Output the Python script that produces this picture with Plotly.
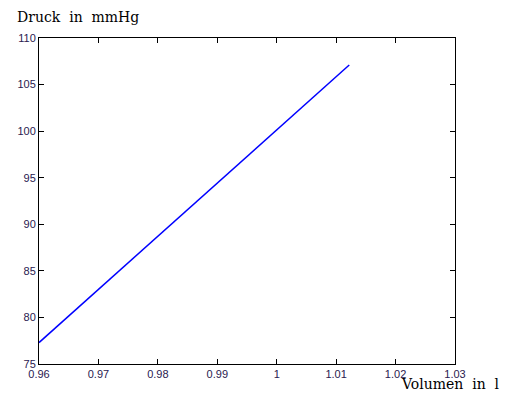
import plotly.graph_objects as go

# Volume (l) and pressure (mmHg) readings
volumen = [0.96, 0.97, 0.98, 0.99, 1.00, 1.0122]
druck = [77.3, 83.0, 88.7, 94.4, 100.1, 107.1]

x_ticks = [0.96, 0.97, 0.98, 0.99, 1.00, 1.01, 1.02, 1.03]
x_labels = ["0.96", "0.97", "0.98", "0.99", "1", "1.01", "1.02", "1.03"]
y_ticks = [75, 80, 85, 90, 95, 100, 105, 110]
y_labels = [str(v) for v in y_ticks]

fig = go.Figure()
fig.add_trace(go.Scatter(x=volumen, y=druck, mode="lines",
                         line=dict(color="#0000ff", width=1.5),
                         showlegend=False))

axis_common = dict(showline=True, mirror="ticks", linecolor="black", linewidth=1,
                   ticks="inside", ticklen=5, tickcolor="black",
                   showgrid=False, zeroline=False,
                   tickfont=dict(family="Liberation Sans, Arial", size=11, color="#2a2050"))

fig.update_xaxes(range=[0.96, 1.03], tickvals=x_ticks, ticktext=x_labels, **axis_common)
fig.update_yaxes(range=[75, 110], tickvals=y_ticks, ticktext=y_labels, **axis_common)

fig.add_annotation(text="Druck  in  mmHg", xref="paper", yref="paper",
                   x=-0.058, y=1.064, xanchor="left", yanchor="middle", showarrow=False,
                   font=dict(family="DejaVu Serif", size=14, color="black"))
fig.add_annotation(text="Volumen  in  l", xref="paper", yref="paper",
                   x=0.866, y=-0.062, xanchor="left", yanchor="middle", showarrow=False,
                   font=dict(family="DejaVu Serif", size=14, color="black"))

fig.update_layout(width=513, height=394,
                  margin=dict(l=39, r=58, t=38, b=30),
                  plot_bgcolor="white", paper_bgcolor="white")

fig.write_html("out.html")
